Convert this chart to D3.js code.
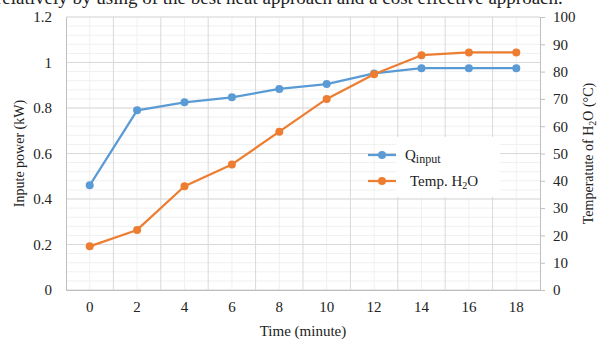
<!DOCTYPE html>
<html>
<head>
<meta charset="utf-8">
<script src="https://cdn.jsdelivr.net/npm/d3@7"></script>
<style>
  body { margin: 0; background: #fff; }
  svg, svg text { font-family: "Liberation Serif", "Times New Roman", serif; }
  svg { display: block; }
</style>
</head>
<body>
<div id="chart"></div>
<script>
const W = 598, H = 342;
const margin = { top: 17, right: 58, bottom: 52, left: 66 };

// data
const times = [0, 2, 4, 6, 8, 10, 12, 14, 16, 18];
const qInput = [0.46, 0.79, 0.825, 0.847, 0.884, 0.905, 0.952, 0.975, 0.975, 0.975];
const tempH2O = [16, 22, 38, 46, 58, 70, 79, 86, 87, 87];
const leftTicks = [0, 0.2, 0.4, 0.6, 0.8, 1, 1.2];
const rightTicks = [0, 10, 20, 30, 40, 50, 60, 70, 80, 90, 100];

const blue = "#5b9bd5", orange = "#ed7d31";

const svg = d3.select("#chart").append("svg")
    .attr("width", W)
    .attr("height", H);

// clipped line of document text above the chart
svg.append("text")
    .attr("x", -4)
    .attr("y", 4)
    .attr("font-size", 19)
    .attr("fill", "#222")
    .text("relatively by using of the best heat approach and a cost effective approach.");

const x0 = margin.left, x1 = W - margin.right;
const y0 = H - margin.bottom, y1 = margin.top;

const x = d3.scaleBand()
    .domain(times)
    .range([x0, x1])
    .padding(0);
const yL = d3.scaleLinear().domain([0, 1.2]).range([y0, y1]);
const yR = d3.scaleLinear().domain([0, 100]).range([y0, y1]);
const cx = d => x(d) + x.bandwidth() / 2;

// minor gridlines
const grid = svg.append("g");
grid.selectAll(".hmin")
    .data(d3.range(0, 1.2001, 0.04))
    .enter().append("line")
    .attr("x1", x0).attr("x2", x1)
    .attr("y1", d => yL(d)).attr("y2", d => yL(d))
    .attr("stroke", "#f0f0f0").attr("stroke-width", 1);
grid.selectAll(".vmin")
    .data(times)
    .enter().append("line")
    .attr("x1", d => cx(d)).attr("x2", d => cx(d))
    .attr("y1", y0).attr("y2", y1)
    .attr("stroke", "#f0f0f0").attr("stroke-width", 1);
// major gridlines
grid.selectAll(".hmaj")
    .data(leftTicks)
    .enter().append("line")
    .attr("x1", x0).attr("x2", x1)
    .attr("y1", d => yL(d)).attr("y2", d => yL(d))
    .attr("stroke", "#d9d9d9").attr("stroke-width", 1);
grid.selectAll(".vmaj")
    .data(times.slice(1))
    .enter().append("line")
    .attr("x1", d => x(d)).attr("x2", d => x(d))
    .attr("y1", y0).attr("y2", y1)
    .attr("stroke", "#d9d9d9").attr("stroke-width", 1);

// axes
const axL = svg.append("g")
    .attr("transform", `translate(${x0},0)`)
    .call(d3.axisLeft(yL).tickValues(leftTicks).tickSize(0).tickPadding(14).tickFormat(d3.format("")));
const axR = svg.append("g")
    .attr("transform", `translate(${x1},0)`)
    .call(d3.axisRight(yR).tickValues(rightTicks).tickSize(5).tickPadding(8));
const axB = svg.append("g")
    .attr("transform", `translate(0,${y0})`)
    .call(d3.axisBottom(x).tickSize(0).tickPadding(11));

[axL, axR, axB].forEach(a => {
    a.attr("font-family", null).attr("font-size", null);
    a.select(".domain").attr("stroke", "#bfbfbf");
    a.selectAll(".tick line").attr("stroke", "#bfbfbf");
    a.selectAll("text")
        .style("font-family", "'Liberation Serif', 'Times New Roman', serif")
        .attr("font-size", 15)
        .attr("fill", "#222");
});

// axis titles
svg.append("text")
    .attr("transform", `translate(24,${(y0 + y1) / 2}) rotate(-90)`)
    .attr("text-anchor", "middle")
    .attr("font-size", 14).attr("fill", "#222")
    .text("Inpute power (kW)");

const rt = svg.append("text")
    .attr("transform", `translate(593,${(y0 + y1) / 2}) rotate(-90)`)
    .attr("text-anchor", "middle")
    .attr("font-size", 14).attr("fill", "#222");
rt.append("tspan").text("Temperatute of H");
rt.append("tspan").attr("font-size", 10).attr("dy", 3).text("2");
rt.append("tspan").attr("dy", -3).text("O (°C)");

svg.append("text")
    .attr("x", (x0 + x1) / 2)
    .attr("y", 336)
    .attr("text-anchor", "middle")
    .attr("font-size", 15).attr("fill", "#222")
    .text("Time (minute)");

// series
const series = [
    { name: "q", values: qInput, y: yL, color: blue },
    { name: "t", values: tempH2O, y: yR, color: orange }
];
series.forEach(s => {
    const line = d3.line()
        .x((d, i) => cx(times[i]))
        .y(d => s.y(d));
    svg.append("path")
        .attr("d", line(s.values))
        .attr("fill", "none")
        .attr("stroke", s.color)
        .attr("stroke-width", 2.25)
        .attr("stroke-linejoin", "round");
    svg.append("g").selectAll("circle")
        .data(s.values)
        .enter().append("circle")
        .attr("cx", (d, i) => cx(times[i]))
        .attr("cy", d => s.y(d))
        .attr("r", 4)
        .attr("fill", s.color);
});

// legend
const lg = svg.append("g");
lg.append("rect")
    .attr("x", 396).attr("y", 137)
    .attr("width", 104).attr("height", 60)
    .attr("fill", "#fff");
const legendRows = [
    { color: blue, y: 155, tx: 405 },
    { color: orange, y: 181, tx: 410 }
];
legendRows.forEach(r => {
    lg.append("line")
        .attr("x1", 368).attr("x2", 396)
        .attr("y1", r.y).attr("y2", r.y)
        .attr("stroke", r.color).attr("stroke-width", 2.25);
    lg.append("circle")
        .attr("cx", 382).attr("cy", r.y).attr("r", 4)
        .attr("fill", r.color);
});
const l1 = lg.append("text").attr("x", 405).attr("y", 160)
    .attr("font-size", 15).attr("fill", "#222");
l1.append("tspan").text("Q");
l1.append("tspan").attr("font-size", 12).attr("dy", 3).text("input");
const l2 = lg.append("text").attr("x", 410).attr("y", 186)
    .attr("font-size", 15).attr("fill", "#222");
l2.append("tspan").text("Temp. H");
l2.append("tspan").attr("font-size", 10).attr("dy", 3).text("2");
l2.append("tspan").attr("dy", -3).text("O");
</script>
</body>
</html>
